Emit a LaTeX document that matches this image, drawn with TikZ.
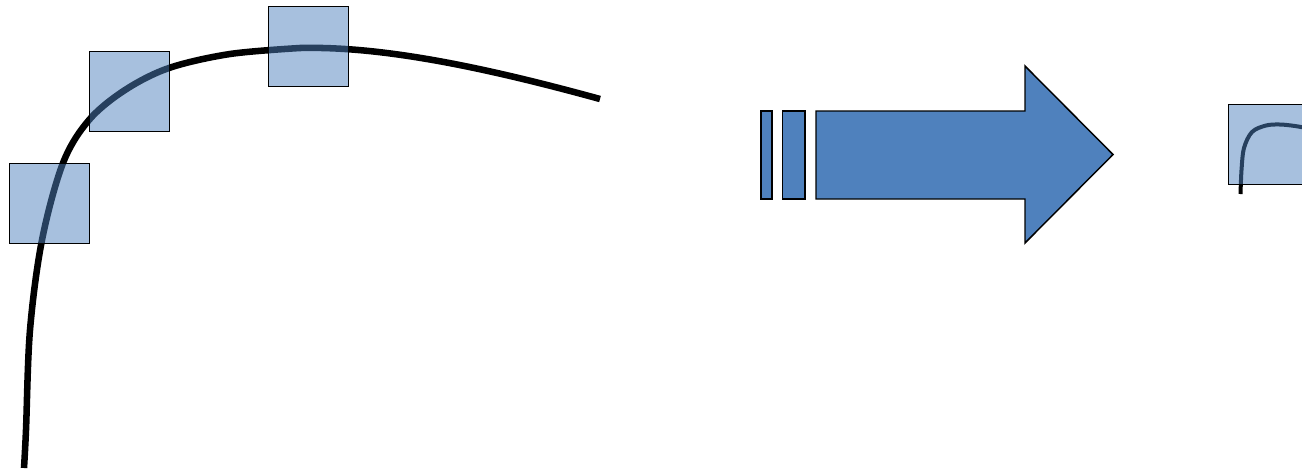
\documentclass[tikz,border=0pt]{standalone}
\definecolor{ablue}{HTML}{4F81BD}
\tikzset{
  sq/.style={draw=black, line width=1.1pt, fill=ablue, fill opacity=0.5},
  arrowpart/.style={draw=black, line width=1.1pt, fill=ablue, line join=miter},
  bigcurve/.style={draw=black, line width=4.9pt},
  smallcurve/.style={draw=black, line width=3pt}
}
\begin{document}
\begin{tikzpicture}[x=0.75pt, y=-0.75pt]
\useasboundingbox (0,0) rectangle (1302,469);
\clip (0,0) rectangle (1302,469);
% main curve
\draw[bigcurve] plot[smooth, tension=0.55] coordinates {(24,468) (26,430) (30,330) (42,240) (63,163) (89,120) (125,90) (169,68) (230,54) (300,48)}
  .. controls (380,46) and (480,66) .. (600,99);
% squares
\node[sq, minimum width=60pt, minimum height=60pt, inner sep=0pt, anchor=north west] (s1) at (9,163) {};
\node[sq, minimum width=60pt, minimum height=60pt, inner sep=0pt, anchor=north west] (s2) at (89,51) {};
\node[sq, minimum width=60pt, minimum height=60pt, inner sep=0pt, anchor=north west] (s3) at (268,6) {};
% striped arrow
\draw[arrowpart] (761,111) rectangle (772,199);
\draw[arrowpart] (782.5,111) rectangle (805,199);
\draw[arrowpart] (816,111) -- (1025,111) -- (1025,66) -- (1113,154.5) -- (1025,243) -- (1025,199) -- (816,199) -- cycle;
% small icon
\draw[smallcurve] plot[smooth, tension=0.55] coordinates {(1240.5,194) (1241.5,170) (1244,148) (1252,132) (1266,125.5) (1280,124.5) (1295,126) (1306,128)};
\node[sq, minimum width=67.5pt, minimum height=60pt, inner sep=0pt, anchor=north west] (s4) at (1228,103.5) {};
\end{tikzpicture}
\end{document}
